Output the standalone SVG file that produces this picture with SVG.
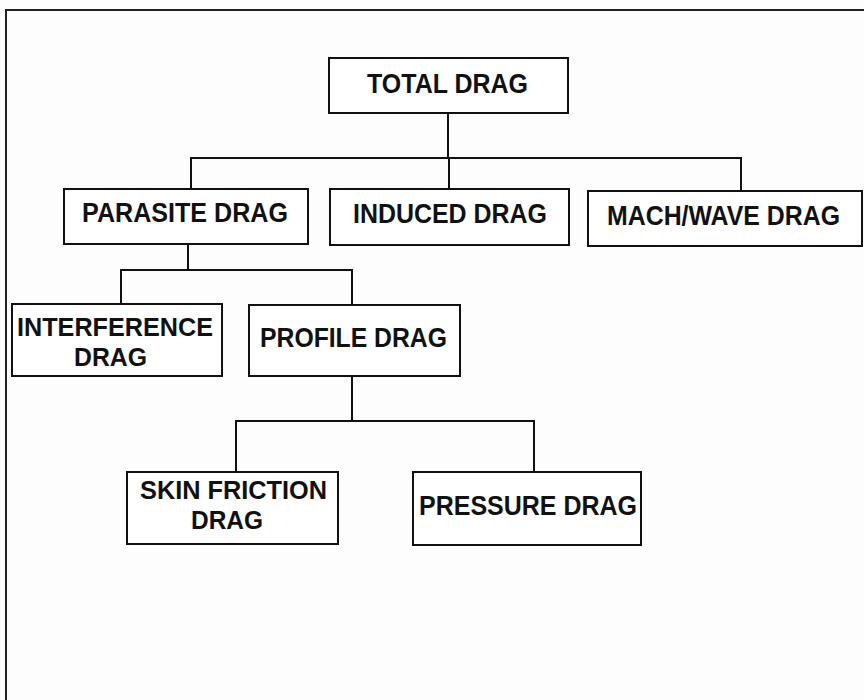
<svg xmlns="http://www.w3.org/2000/svg" width="864" height="700" viewBox="0 0 864 700">
<style>
.box{fill:#fff;stroke:#111;stroke-width:2}
.lbl{font-family:"Liberation Sans",Arial,sans-serif;font-weight:bold;font-size:27px;fill:#111}
.lbl2{font-family:"Liberation Sans",Arial,sans-serif;font-weight:bold;font-size:26px;fill:#111}
.con{fill:none;stroke:#111;stroke-width:2}
.frame{fill:none;stroke:#222;stroke-width:2}
</style>
<rect x="0" y="0" width="864" height="700" fill="#fdfdfd"/>
<path class="frame" d="M6,700 V10 H864"/>
<g id="connectors">
<path class="con" d="M448,113 V158"/>
<path class="con" d="M191,189 V158 H741 V191"/>
<path class="con" d="M449,158 V189"/>
<path class="con" d="M188,244 V270"/>
<path class="con" d="M121,304 V270 H352 V305"/>
<path class="con" d="M352,376 V421"/>
<path class="con" d="M236,472 V421 H534 V472"/>
</g>
<g id="total-drag">
<rect class="box" x="329" y="58" width="239" height="55"/>
<text class="lbl" x="367" y="93" textLength="161" lengthAdjust="spacingAndGlyphs">TOTAL DRAG</text>
</g>
<g id="parasite-drag">
<rect class="box" x="64" y="189" width="244" height="55"/>
<text class="lbl" x="82" y="222" textLength="206" lengthAdjust="spacingAndGlyphs">PARASITE DRAG</text>
</g>
<g id="induced-drag">
<rect class="box" x="330" y="189" width="239" height="56"/>
<text class="lbl" x="353" y="223" textLength="194" lengthAdjust="spacingAndGlyphs">INDUCED DRAG</text>
</g>
<g id="mach-wave-drag">
<rect class="box" x="588" y="191" width="274" height="55"/>
<text class="lbl" x="607" y="225" textLength="233" lengthAdjust="spacingAndGlyphs">MACH/WAVE DRAG</text>
</g>
<g id="interference-drag">
<rect class="box" x="12" y="304" width="210" height="72"/>
<text class="lbl2" x="17" y="336" textLength="196" lengthAdjust="spacingAndGlyphs">INTERFERENCE</text>
<text class="lbl2" x="74" y="366" textLength="73" lengthAdjust="spacingAndGlyphs">DRAG</text>
</g>
<g id="profile-drag">
<rect class="box" x="249" y="305" width="211" height="71"/>
<text class="lbl" x="260" y="347" textLength="187" lengthAdjust="spacingAndGlyphs">PROFILE DRAG</text>
</g>
<g id="skin-friction-drag">
<rect class="box" x="127" y="472" width="211" height="72"/>
<text class="lbl2" x="140" y="499" textLength="187" lengthAdjust="spacingAndGlyphs">SKIN FRICTION</text>
<text class="lbl2" x="191" y="529" textLength="72" lengthAdjust="spacingAndGlyphs">DRAG</text>
</g>
<g id="pressure-drag">
<rect class="box" x="413" y="472" width="228" height="73"/>
<text class="lbl" x="419" y="515" textLength="218" lengthAdjust="spacingAndGlyphs">PRESSURE DRAG</text>
</g>
</svg>
